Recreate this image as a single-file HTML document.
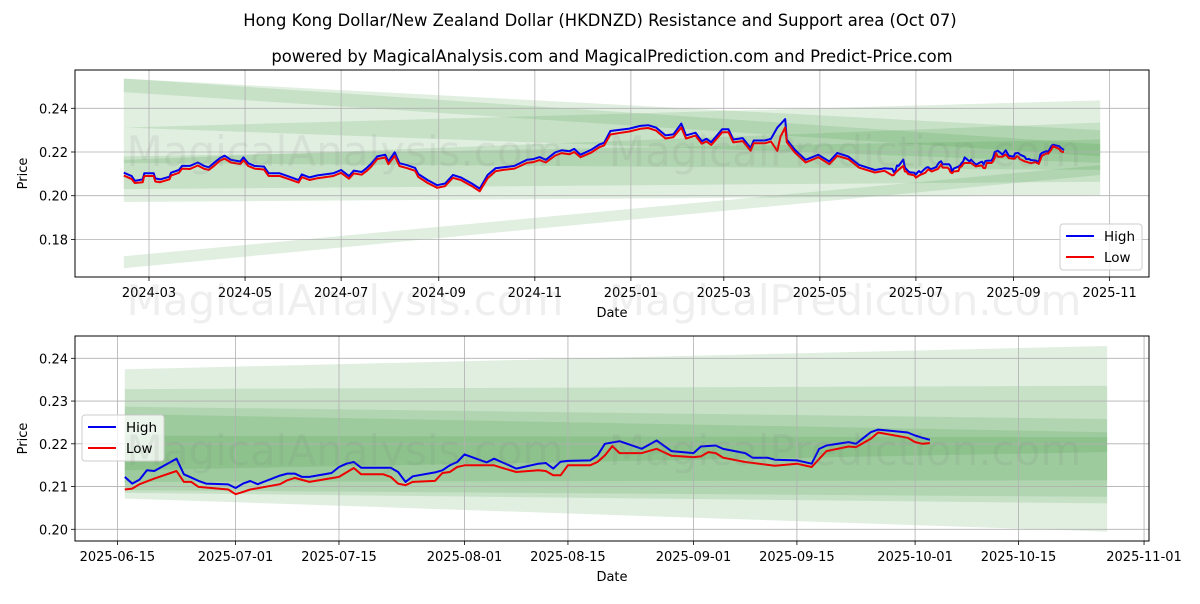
<!DOCTYPE html>
<html><head><meta charset="utf-8">
<style>
body{margin:0;background:#fff;font-family:"DejaVu Sans","Liberation Sans",sans-serif;}
svg text{font-family:"DejaVu Sans","Liberation Sans",sans-serif;}
</style></head>
<body>
<svg id="chart" width="1200" height="600" xmlns="http://www.w3.org/2000/svg">
<rect width="1200" height="600" fill="#fff"/>
<text x="600" y="26" text-anchor="middle" font-size="16.4" fill="#000">Hong Kong Dollar/New Zealand Dollar (HKDNZD) Resistance and Support area (Oct 07)</text>
<text x="612" y="62" text-anchor="middle" font-size="16.4" fill="#000">powered by MagicalAnalysis.com and MagicalPrediction.com and Predict-Price.com</text>
<g id="top"></g>
<g id="bot"></g>
<g font-size="42" fill="rgba(120,120,120,0.12)" text-anchor="middle">
<text x="345" y="166">MagicalAnalysis.com</text>
<text x="845" y="166">MagicalPrediction.com</text>
<text x="345" y="315">MagicalAnalysis.com</text>
<text x="845" y="315">MagicalPrediction.com</text>
<text x="345" y="465">MagicalAnalysis.com</text>
<text x="845" y="465">MagicalPrediction.com</text>
</g>
</svg>
<script>
// ---- top chart data (through mid-June 2025) ----
const topDates=["2024-02-14","2024-02-19","2024-02-21","2024-02-26","2024-02-27","2024-03-04","2024-03-05","2024-03-08","2024-03-14","2024-03-15","2024-03-20","2024-03-22","2024-03-27","2024-04-01","2024-04-05","2024-04-08","2024-04-11","2024-04-15","2024-04-18","2024-04-22","2024-04-28","2024-04-30","2024-05-03","2024-05-07","2024-05-13","2024-05-16","2024-05-23","2024-05-28","2024-06-04","2024-06-06","2024-06-11","2024-06-16","2024-06-26","2024-07-01","2024-07-06","2024-07-09","2024-07-14","2024-07-17","2024-07-20","2024-07-24","2024-07-29","2024-07-31","2024-08-04","2024-08-07","2024-08-12","2024-08-17","2024-08-19","2024-08-25","2024-08-31","2024-09-05","2024-09-10","2024-09-15","2024-09-22","2024-09-27","2024-10-02","2024-10-07","2024-10-12","2024-10-19","2024-10-27","2024-10-31","2024-11-04","2024-11-08","2024-11-14","2024-11-18","2024-11-23","2024-11-26","2024-11-30","2024-12-07","2024-12-12","2024-12-15","2024-12-19","2024-12-24","2024-12-31","2025-01-07","2025-01-12","2025-01-17","2025-01-23","2025-01-28","2025-02-02","2025-02-05","2025-02-11","2025-02-15","2025-02-18","2025-02-21","2025-02-28","2025-03-04","2025-03-07","2025-03-13","2025-03-18","2025-03-20","2025-03-27","2025-03-31","2025-04-04","2025-04-06","2025-04-09","2025-04-10","2025-04-15","2025-04-22","2025-04-30","2025-05-07","2025-05-12","2025-05-19","2025-05-26","2025-06-05","2025-06-11"];
const topHigh=[.21054,.20899,.20682,.20744,.21023,.21023,.2079,.20744,.20868,.21054,.21178,.21364,.21364,.2152,.21364,.21302,.21488,.21721,.21829,.21643,.21566,.21752,.21488,.21364,.21333,.21023,.21023,.20899,.20713,.20977,.20837,.2093,.21023,.21178,.20899,.21147,.21085,.21256,.21457,.21798,.21876,.21566,.21984,.21488,.21395,.21271,.20992,.20713,.20481,.20558,.20946,.20837,.20558,.20326,.20946,.21256,.21302,.21364,.21643,.21674,.21767,.21643,.21984,.22078,.22031,.2214,.21876,.22109,.22341,.22419,.22961,.23008,.2307,.23194,.23225,.23116,.2276,.22806,.23302,.2276,.22884,.22496,.22605,.2245,.23039,.23039,.22574,.22636,.22186,.22527,.22527,.22605,.23116,.23271,.23504,.22574,.22109,.21643,.21876,.21566,.21953,.21798,.21411,.21178,.21256];
const topLow=[.2092,.2076,.2058,.2062,.2090,.2090,.2065,.2062,.2075,.2092,.2105,.2124,.2122,.2138,.2123,.2118,.2135,.2160,.2170,.2152,.2145,.2162,.2136,.2124,.2120,.2090,.2090,.2078,.2060,.2085,.2072,.2080,.2090,.2105,.2078,.2102,.2096,.2112,.2132,.2168,.2175,.2144,.2182,.2136,.2126,.2114,.2086,.2058,.2036,.2044,.2082,.2072,.2044,.2020,.2080,.2112,.2118,.2124,.2150,.2154,.2163,.2152,.2184,.2195,.2190,.2200,.2176,.2198,.2222,.2230,.2280,.2286,.2294,.2306,.2310,.2298,.2262,.2268,.2312,.2262,.2275,.2238,.2248,.2232,.2290,.2290,.2244,.2250,.2206,.2240,.2240,.2248,.2205,.2270,.2312,.2245,.2198,.2152,.2176,.2144,.2182,.2168,.2128,.2106,.2114];
// ---- bottom chart data (from 2025-06-16) ----
const botHighDates=["2025-06-16","2025-06-17","2025-06-18","2025-06-19","2025-06-20","2025-06-23","2025-06-24","2025-06-25","2025-06-26","2025-06-27","2025-06-30","2025-07-01","2025-07-02","2025-07-03","2025-07-04","2025-07-07","2025-07-08","2025-07-09","2025-07-10","2025-07-11","2025-07-14","2025-07-15","2025-07-16","2025-07-17","2025-07-18","2025-07-21","2025-07-22","2025-07-23","2025-07-24","2025-07-25","2025-07-28","2025-07-29","2025-07-30","2025-07-31","2025-08-01","2025-08-04","2025-08-05","2025-08-06","2025-08-07","2025-08-08","2025-08-11","2025-08-12","2025-08-13","2025-08-14","2025-08-15","2025-08-18","2025-08-19","2025-08-20","2025-08-22","2025-08-25","2025-08-27","2025-08-29","2025-09-01","2025-09-02","2025-09-04","2025-09-05","2025-09-08","2025-09-09","2025-09-11","2025-09-12","2025-09-15","2025-09-17","2025-09-18","2025-09-19","2025-09-22","2025-09-23","2025-09-25","2025-09-26","2025-09-30","2025-10-01","2025-10-02","2025-10-03"];
const botHigh=[.21225,.2107,.21163,.2138,.21364,.21651,.21287,.2121,.21132,.2107,.2105,.20965,.2107,.2113,.21054,.21256,.21302,.21302,.21225,.21225,.21318,.21457,.21535,.21574,.21442,.21442,.21442,.21341,.21109,.2124,.2133,.2138,.21496,.21574,.21752,.21566,.21651,.21574,.215,.21419,.21535,.2155,.2142,.21581,.216,.21612,.21729,.22,.2206,.21884,.22078,.2183,.21783,.21938,.2196,.2188,.21783,.21674,.21674,.21628,.21612,.21535,.2188,.2196,.22039,.22,.22271,.22333,.22264,.22194,.2214,.22093];
const botLowDates=["2025-06-16","2025-06-17","2025-06-18","2025-06-20","2025-06-23","2025-06-24","2025-06-25","2025-06-26","2025-06-30","2025-07-01","2025-07-02","2025-07-03","2025-07-07","2025-07-08","2025-07-09","2025-07-11","2025-07-15","2025-07-17","2025-07-18","2025-07-21","2025-07-22","2025-07-23","2025-07-24","2025-07-25","2025-07-28","2025-07-29","2025-07-30","2025-07-31","2025-08-01","2025-08-05","2025-08-06","2025-08-08","2025-08-11","2025-08-12","2025-08-13","2025-08-14","2025-08-15","2025-08-18","2025-08-19","2025-08-20","2025-08-21","2025-08-22","2025-08-25","2025-08-27","2025-08-29","2025-09-01","2025-09-02","2025-09-03","2025-09-04","2025-09-05","2025-09-08","2025-09-12","2025-09-15","2025-09-17","2025-09-19","2025-09-22","2025-09-23","2025-09-25","2025-09-26","2025-09-30","2025-10-01","2025-10-02","2025-10-03"];
const botLow=[.2093,.20953,.21054,.21186,.21364,.21109,.21109,.20992,.2093,.20822,.20876,.2093,.21054,.21147,.21202,.21109,.21225,.21434,.21287,.21287,.21225,.2107,.21031,.21109,.21132,.21318,.21341,.21457,.21496,.21496,.21442,.21341,.2138,.21364,.21264,.21264,.21496,.21496,.21574,.21729,.21946,.21783,.21783,.21884,.21721,.2169,.21705,.21806,.21783,.21674,.21574,.21488,.21535,.21457,.2183,.21938,.21922,.22116,.22264,.2214,.22039,.22,.22016];
// ---- bands: [startTop,startBottom,endTop,endBottom] ----
const topBandStart="2024-02-14", topBandEnd="2025-10-26";
const topBands=[[.2536,.2312,.2300,.2150],[.2536,.2474,.2236,.2180],[.2312,.1971,.2436,.2002],[.2164,.2030,.2335,.2064],[.2180,.2150,.2257,.2118],[.1723,.1668,.2140,.2095]];
const botBandStart="2025-06-16", botBandEnd="2025-10-27";
const botBands=[[.23744,.2072,.24287,.19946],[.23279,.20853,.23357,.20605],[.22868,.20915,.22581,.2076],[.22698,.21109,.22271,.21147],[.2219,.2138,.22155,.21806]];
const topXTicks=["2024-03","2024-05","2024-07","2024-09","2024-11","2025-01","2025-03","2025-05","2025-07","2025-09","2025-11"];
const topYTicks=[0.18,0.20,0.22,0.24];
const botXTicks=["2025-06-15","2025-07-01","2025-07-15","2025-08-01","2025-08-15","2025-09-01","2025-09-15","2025-10-01","2025-10-15","2025-11-01"];
const botYTicks=[0.20,0.21,0.22,0.23,0.24];

const NS="http://www.w3.org/2000/svg";
const DAY=86400000;
function d(s){return Date.parse(s.length===7?s+"-01":s);}
function mk(parent,tag,attrs,text){const e=document.createElementNS(NS,tag);for(const k in attrs)e.setAttribute(k,attrs[k]);if(text!==undefined)e.textContent=text;parent.appendChild(e);return e;}

function panel(g,cfg){
  const {L,R,T,B,x,y}=cfg;
  cfg.bands.forEach((b,i)=>{
    const x0=x(d(cfg.bs)),x1=x(d(cfg.be));
    const p=mk(g,"polygon",{points:`${x0},${y(b[0])} ${x1},${y(b[2])} ${x1},${y(b[3])} ${x0},${y(b[1])}`,fill:"rgba(40,140,40,0.14)"});
    
    
  });
  cfg.xt.forEach(t=>{
    const xx=x(d(t));
    const l=mk(g,"line",{x1:xx,x2:xx,y1:T,y2:B,stroke:"#b0b0b0","stroke-width":0.8});
    
    
    mk(g,"line",{x1:xx,x2:xx,y1:B,y2:B+4,stroke:"#000","stroke-width":0.8});
    const tx=mk(g,"text",{x:xx,y:B+20,"text-anchor":"middle","font-size":13},t);
    
    
  });
  cfg.yt.forEach(t=>{
    const yy=y(t);
    const l=mk(g,"line",{x1:L,x2:R,y1:yy,y2:yy,stroke:"#b0b0b0","stroke-width":0.8});
    
    
    mk(g,"line",{x1:L-4,x2:L,y1:yy,y2:yy,stroke:"#000","stroke-width":0.8});
    const tx=mk(g,"text",{x:L-7,y:yy+5,"text-anchor":"end","font-size":13},t.toFixed(cfg.dec));
    
    
  });
  const series=[[cfg.hd,cfg.hv,"#0000ee","high-line"],[cfg.ld,cfg.lv,"#ee0000","low-line"]];
  series.forEach(s=>{
    const pts=s[0].map((dt,i)=>`${x(d(dt)).toFixed(1)},${y(s[1][i]).toFixed(1)}`).join(" ");
    const pl=mk(g,"polyline",{points:pts,fill:"none",stroke:s[2],"stroke-width":2,"stroke-linejoin":"round"});
    
    
  });
  const fr=mk(g,"rect",{x:L,y:T,width:R-L,height:B-T,fill:"none",stroke:"#000","stroke-width":1});
  
  
  const yl=mk(g,"text",{x:0,y:0,transform:`translate(27,${(T+B)/2}) rotate(-90)`,"text-anchor":"middle","font-size":13},"Price");
  
  
  const xl=mk(g,"text",{x:612,y:B+40,"text-anchor":"middle","font-size":13},"Date");
  
  
  const lg=mk(g,"g",{});
  
  
  const [lx,ly]=cfg.leg;
  mk(lg,"rect",{x:lx,y:ly,width:82,height:46,rx:3,fill:"rgba(255,255,255,0.8)",stroke:"#ccc"});
  mk(lg,"line",{x1:lx+6,x2:lx+34,y1:ly+12,y2:ly+12,stroke:"#0000ee","stroke-width":2});
  const t1=mk(lg,"text",{x:lx+44,y:ly+17,"font-size":13.5},"High");
  
  
  mk(lg,"line",{x1:lx+6,x2:lx+34,y1:ly+33,y2:ly+33,stroke:"#ee0000","stroke-width":2});
  const t2=mk(lg,"text",{x:lx+44,y:ly+38,"font-size":13.5},"Low");
  
  
}

const t0=d("2024-03-01");
panel(document.getElementById("top"),{
  L:75,R:1149,T:70,B:277,dec:2,
  x:v=>149+(v-t0)/DAY*1.5748,
  y:v=>108.3+(0.24-v)*2185,
  bands:topBands,bs:topBandStart,be:topBandEnd,
  xt:topXTicks,yt:topYTicks,
  hd:topDates.concat(botHighDates),hv:topHigh.concat(botHigh),
  ld:topDates.concat(botLowDates),lv:topLow.concat(botLow),
  leg:[1060,224]
});
const b0=d("2025-06-15");
panel(document.getElementById("bot"),{
  L:75,R:1149,T:336,B:541,dec:2,
  x:v=>117.4+(v-b0)/DAY*7.386,
  y:v=>358.3+(0.24-v)*4275,
  bands:botBands,bs:botBandStart,be:botBandEnd,
  xt:botXTicks,yt:botYTicks,
  hd:botHighDates,hv:botHigh,ld:botLowDates,lv:botLow,
  leg:[82,415]
});
</script>
</body></html>
